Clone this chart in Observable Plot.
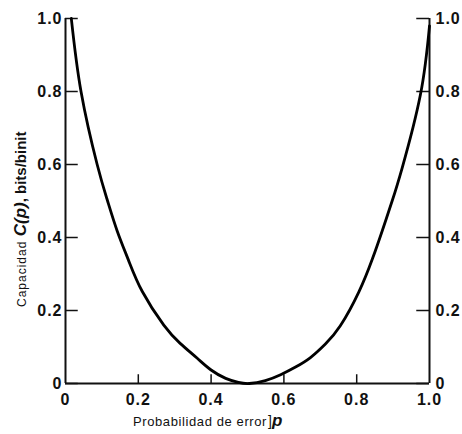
<!DOCTYPE html>
<html>
<head>
<meta charset="utf-8">
<script src="https://cdn.jsdelivr.net/npm/d3@7"></script>
<script src="https://cdn.jsdelivr.net/npm/@observablehq/plot@0.6"></script>
<style>
  html, body { margin: 0; padding: 0; background: #fff; }
</style>
</head>
<body>
<div id="chart"></div>
<script>
// Data
const capP = [0.016, 0.043, 0.087, 0.115, 0.142, 0.173, 0.211, 0.270, 0.315, 0.362, 0.400, 0.440, 0.475, 0.505, 0.549, 0.591, 0.632, 0.673, 0.714, 0.755, 0.806, 0.843, 0.870, 0.898, 0.925, 0.975, 1.000];
const capC = [1.000, 0.798, 0.600, 0.502, 0.418, 0.338, 0.252, 0.160, 0.110, 0.069, 0.037, 0.014, 0.003, 0.000, 0.008, 0.024, 0.045, 0.071, 0.108, 0.158, 0.251, 0.341, 0.418, 0.502, 0.591, 0.791, 0.980];
const xTicks = [0, 0.2, 0.4, 0.6, 0.8, 1.0];
const xTickLabels = ["0", "0.2", "0.4", "0.6", "0.8", "1.0"];
const yTicks = [0, 0.2, 0.4, 0.6, 0.8, 1.0];
const yTickLabels = ["0", "0.2", "0.4", "0.6", "0.8", "1.0"];
const xTitle = ["Probabilidad de error", "]", "p"];
const yTitle = ["Capacidad ", "C(p)", ", bits/binit"];

const curveData = capP.map((p, i) => ({p, c: capC[i]}));
const fmtX = d => xTickLabels[xTicks.indexOf(d)];
const fmtY = d => yTickLabels[yTicks.indexOf(d)];

const chart = Plot.plot({
  width: 462,
  height: 434,
  marginLeft: 65,
  marginRight: 33,
  marginTop: 18,
  marginBottom: 51,
  x: {domain: [0, 1]},
  y: {domain: [0, 1]},
  style: {fontFamily: "Liberation Sans, Arial, sans-serif", fontSize: "16px", fontWeight: "bold", color: "#111", background: "#fff", letterSpacing: "1px"},
  marks: [
    Plot.axisX(xTicks, {anchor: "bottom", tickSize: 0, tickPadding: 10, tickFormat: fmtX, label: null}),
    Plot.axisY(yTicks, {anchor: "left", tickSize: 0, tickPadding: 3, tickFormat: fmtY, label: null}),
    Plot.axisY(yTicks, {anchor: "right", tickSize: 0, tickPadding: 6, tickFormat: fmtY, label: null}),
    Plot.ruleX([0, 1], {x: d => d, y1: 0, y2: 1, stroke: "#111", strokeWidth: 2}),
    Plot.ruleY([0], {y: d => d, x1: 0, x2: 1, stroke: "#111", strokeWidth: 2}),
    Plot.ruleY(yTicks, {y: d => d, x1: 0, x2: 0.035, stroke: "#111", strokeWidth: 1.5}),
    Plot.ruleY(yTicks, {y: d => d, x1: 0.965, x2: 1, stroke: "#111", strokeWidth: 1.5}),
    Plot.ruleX(xTicks.slice(1, -1), {x: d => d, y1: 0, y2: 0.024, stroke: "#111", strokeWidth: 1.5}),
    Plot.line(curveData, {x: "p", y: "c", curve: "natural", stroke: "#000", strokeWidth: 2.8})
  ]
});

const svg = d3.select(chart);
// x axis title
const xt = svg.append("text")
  .attr("x", 133).attr("y", 426)
  .attr("text-anchor", "start")
  .attr("fill", "#111")
  .style("font-family", "Liberation Sans, Arial, sans-serif")
  .style("letter-spacing", "0");
xt.append("tspan").text(xTitle[0]).style("font-size", "13px").style("font-weight", "normal").style("letter-spacing", "0.6px");
xt.append("tspan").text(xTitle[1]).style("font-size", "14px").style("font-weight", "normal").attr("dx", 1);
xt.append("tspan").text(xTitle[2]).style("font-size", "17px").style("font-weight", "bold").style("font-style", "italic");

// y axis title (rotated)
const yt = svg.append("text")
  .attr("transform", "translate(26,307) rotate(-90)")
  .attr("text-anchor", "start")
  .attr("fill", "#111")
  .style("font-family", "Liberation Sans, Arial, sans-serif")
  .style("letter-spacing", "0");
yt.append("tspan").text(yTitle[0]).style("font-size", "12px").style("font-weight", "normal").style("letter-spacing", "1px");
yt.append("tspan").text(yTitle[1]).style("font-size", "17px").style("font-weight", "bold").style("font-style", "italic");
yt.append("tspan").text(yTitle[2]).style("font-size", "15px").style("font-weight", "bold");

document.getElementById("chart").appendChild(chart);
</script>
</body>
</html>
